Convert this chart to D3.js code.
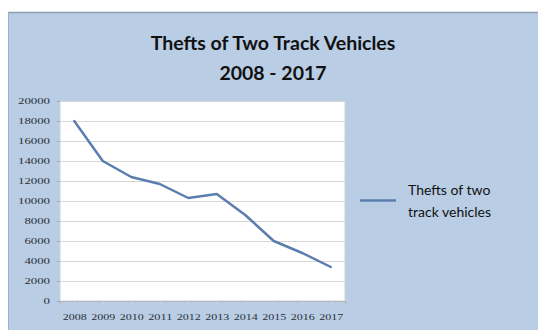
<!DOCTYPE html>
<html>
<head>
<meta charset="utf-8">
<script src="https://cdn.jsdelivr.net/npm/d3@7"></script>
<style>
  html, body { margin: 0; padding: 0; background: #ffffff; }
  svg { display: block; }
</style>
</head>
<body>
<svg id="chart" width="538" height="330"></svg>
<script>
// Thefts of two-track vehicles, 2008-2017
const years = ["2008", "2009", "2010", "2011", "2012", "2013", "2014", "2015", "2016", "2017"];
const thefts = [18000, 14000, 12400, 11700, 10300, 10700, 8600, 6000, 4800, 3400];
const yTicks = [0, 2000, 4000, 6000, 8000, 10000, 12000, 14000, 16000, 18000, 20000];
const titleLines = ["Thefts of Two Track Vehicles", "2008 - 2017"];
const seriesName = ["Thefts of two", "track vehicles"];

const svg = d3.select("#chart");

// chart background
svg.append("rect")
  .attr("x", 8).attr("y", 12).attr("width", 530).attr("height", 318)
  .attr("fill", "#b9cde5");
svg.append("line")
  .attr("x1", 8).attr("x2", 538).attr("y1", 12.5).attr("y2", 12.5)
  .attr("stroke", "#8d9fb6").attr("stroke-width", 1.5);
svg.append("line")
  .attr("x1", 8.5).attr("x2", 8.5).attr("y1", 12).attr("y2", 330)
  .attr("stroke", "#9fb0c5").attr("stroke-width", 1);

// titles, centred over the chart background
svg.append("g").selectAll("text")
  .data(titleLines)
  .join("text")
  .attr("x", 273)
  .attr("y", (d, i) => 50 + i * 30)
  .attr("text-anchor", "middle")
  .attr("font-family", "Lato, 'Open Sans', sans-serif")
  .attr("font-weight", "bold").attr("font-size", 19.5)
  .attr("fill", "#111")
  .text(d => d);

// plot area
const plot = { left: 60, right: 345, top: 101, bottom: 301 };

const x = d3.scalePoint().domain(years).range([plot.left, plot.right]).padding(0.5);
const y = d3.scaleLinear().domain([0, 20000]).range([plot.bottom, plot.top]);

svg.append("rect")
  .attr("x", plot.left).attr("y", plot.top)
  .attr("width", plot.right - plot.left).attr("height", plot.bottom - plot.top)
  .attr("fill", "#ffffff").attr("stroke", "#c9d3df").attr("stroke-width", 1);

// y axis with gridlines
const yAxis = svg.append("g")
  .attr("transform", `translate(${plot.left},0)`)
  .call(d3.axisLeft(y).tickValues(yTicks).tickFormat(d3.format("d")).tickSize(3).tickPadding(7));
yAxis.select(".domain").remove();
yAxis.selectAll(".tick line").attr("stroke", "#9aa7b8");
yAxis.selectAll(".tick text")
  .attr("font-family", "'Liberation Serif', serif")
  .attr("font-size", 8)
  .attr("fill", "#2a2f38")
  .attr("textLength", d => String(d).length * 6.4)
  .attr("lengthAdjust", "spacingAndGlyphs");

svg.append("g").selectAll("line")
  .data(yTicks.filter(d => d > 0))
  .join("line")
  .attr("x1", plot.left).attr("x2", plot.right)
  .attr("y1", d => y(d) + 0.5).attr("y2", d => y(d) + 0.5)
  .attr("stroke", "#d6d6d6").attr("stroke-width", 1);

// x axis
const xAxis = svg.append("g")
  .attr("transform", `translate(0,${plot.bottom})`)
  .call(d3.axisBottom(x).tickSize(3).tickPadding(10));
xAxis.select(".domain").attr("stroke", "#b5b5b5");
xAxis.selectAll(".tick line").attr("stroke", "#c8d2de");
xAxis.selectAll(".tick text")
  .attr("font-family", "'Liberation Serif', serif")
  .attr("font-size", 8)
  .attr("fill", "#2a2f38")
  .attr("textLength", 24)
  .attr("lengthAdjust", "spacingAndGlyphs");

// series line
const line = d3.line()
  .x((d, i) => x(years[i]))
  .y(d => y(d));
svg.append("path")
  .datum(thefts)
  .attr("d", line)
  .attr("fill", "none")
  .attr("stroke", "#5b7eae")
  .attr("stroke-width", 2.5)
  .attr("stroke-linejoin", "round")
  .attr("stroke-linecap", "round");

// legend
svg.append("line")
  .attr("x1", 360).attr("x2", 396).attr("y1", 200.5).attr("y2", 200.5)
  .attr("stroke", "#5b7eae").attr("stroke-width", 2.5);
svg.append("g").selectAll("text")
  .data(seriesName)
  .join("text")
  .attr("x", 408)
  .attr("y", (d, i) => 195 + i * 22)
  .attr("font-family", "Lato, 'Open Sans', sans-serif")
  .attr("font-size", 14)
  .attr("fill", "#111")
  .text(d => d);
</script>
</body>
</html>
